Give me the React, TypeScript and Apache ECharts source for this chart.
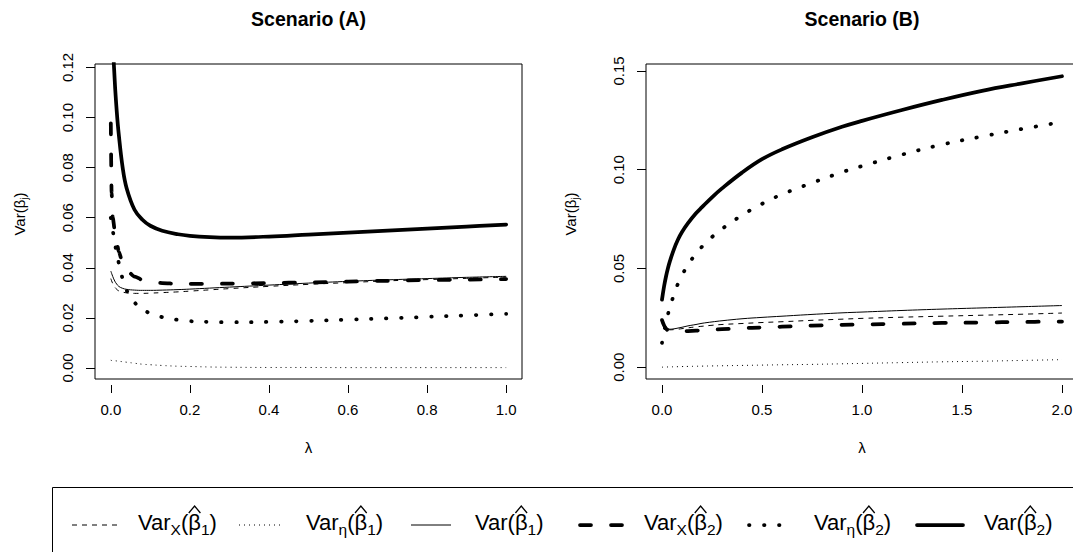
import React, { useEffect, useRef } from 'react';
import * as echarts from 'echarts';

const FONT = '"Liberation Sans", Arial, Helvetica, sans-serif';

// ---------- Scenario (A) ----------
const lambdaA = [0, 0.002, 0.005, 0.01, 0.015, 0.02, 0.03, 0.04, 0.06, 0.08, 0.1, 0.13, 0.17, 0.2, 0.25, 0.3, 0.4, 0.5, 0.6, 0.7, 0.8, 0.9, 1.0];
const varX1A = [0.0357, 0.0348, 0.0337, 0.0323, 0.0314, 0.0308, 0.0303, 0.0300, 0.0298, 0.0298, 0.0299, 0.0301, 0.0304, 0.0307, 0.0312, 0.0317, 0.0326, 0.0334, 0.0341, 0.0348, 0.0353, 0.0358, 0.0363];
const varEta1A = [0.0031, 0.0030, 0.0030, 0.0029, 0.0028, 0.0027, 0.0025, 0.0023, 0.0019, 0.0015, 0.0013, 0.0010, 0.0007, 0.0006, 0.0004, 0.0003, 0.0002, 0.0002, 0.00015, 0.00015, 0.00015, 0.00015, 0.00015];
const var1A = [0.0387, 0.0378, 0.0365, 0.0347, 0.0335, 0.0326, 0.0318, 0.0314, 0.0311, 0.0310, 0.0310, 0.0311, 0.0313, 0.0315, 0.0319, 0.0323, 0.0331, 0.0339, 0.0346, 0.0352, 0.0357, 0.0362, 0.0366];
const varX2A = [0.0977, 0.0700, 0.0600, 0.0550, 0.0500, 0.0465, 0.0420, 0.0390, 0.0365, 0.0352, 0.0344, 0.0339, 0.0336, 0.0336, 0.0336, 0.0337, 0.0339, 0.0342, 0.0345, 0.0348, 0.0351, 0.0353, 0.0355];
const varEta2A = [0.0600, 0.0580, 0.0550, 0.0500, 0.0458, 0.0420, 0.0355, 0.0310, 0.0262, 0.0235, 0.0218, 0.0203, 0.0192, 0.0187, 0.0184, 0.0183, 0.0184, 0.0188, 0.0193, 0.0198, 0.0204, 0.0210, 0.0216];
const var2A = [0.2500, 0.1900, 0.1330, 0.1145, 0.1025, 0.0935, 0.0800, 0.0718, 0.0632, 0.0592, 0.0568, 0.0548, 0.0534, 0.0528, 0.0523, 0.0521, 0.0525, 0.0533, 0.0541, 0.0549, 0.0557, 0.0565, 0.0573];

// ---------- Scenario (B) ----------
const lambdaB = [0, 0.01, 0.02, 0.03, 0.04, 0.06, 0.08, 0.1, 0.13, 0.17, 0.2, 0.25, 0.3, 0.4, 0.5, 0.6, 0.75, 0.9, 1.0, 1.2, 1.4, 1.6, 1.8, 2.0];
const varX1B = [0.0225, 0.0207, 0.0196, 0.0191, 0.0189, 0.0190, 0.0192, 0.0195, 0.0199, 0.0204, 0.0207, 0.0212, 0.0216, 0.0221, 0.0226, 0.0230, 0.0237, 0.0243, 0.0247, 0.0253, 0.0258, 0.0263, 0.0268, 0.0274];
const varEta1B = [0, 0.00003, 0.00006, 0.0001, 0.00012, 0.00018, 0.00024, 0.0003, 0.00037, 0.00046, 0.00052, 0.00062, 0.0007, 0.00088, 0.00104, 0.0012, 0.0014, 0.0017, 0.0019, 0.0023, 0.0027, 0.0030, 0.0034, 0.0038];
const var1B = [0.0235, 0.0215, 0.0202, 0.0195, 0.0192, 0.0194, 0.0198, 0.0202, 0.0209, 0.0216, 0.0222, 0.0229, 0.0235, 0.0245, 0.0252, 0.0258, 0.0267, 0.0275, 0.0279, 0.0287, 0.0294, 0.0300, 0.0306, 0.0312];
const varX2B = [0.0238, 0.0212, 0.0195, 0.0186, 0.0182, 0.0180, 0.0180, 0.0181, 0.0183, 0.0185, 0.0186, 0.0189, 0.0192, 0.0197, 0.0201, 0.0205, 0.0210, 0.0214, 0.0216, 0.0220, 0.0224, 0.0226, 0.0229, 0.0231];
const varEta2B = [0.0123, 0.0175, 0.0225, 0.0268, 0.0305, 0.0368, 0.0423, 0.0465, 0.0518, 0.0575, 0.0610, 0.0659, 0.0700, 0.0769, 0.0827, 0.0875, 0.0933, 0.0987, 0.1018, 0.1076, 0.1127, 0.1168, 0.1206, 0.1241];
const var2B = [0.0342, 0.0407, 0.0459, 0.0502, 0.0538, 0.0598, 0.0646, 0.0684, 0.0729, 0.0779, 0.0810, 0.0860, 0.0905, 0.0985, 0.1053, 0.1103, 0.1164, 0.1217, 0.1247, 0.1302, 0.1353, 0.1399, 0.1437, 0.1473];

// ---------- ticks & labels ----------
const xTicksA = [0, 0.2, 0.4, 0.6, 0.8, 1.0];
const xTicksB = [0, 0.5, 1.0, 1.5, 2.0];
const yTicksA = [0, 0.02, 0.04, 0.06, 0.08, 0.1, 0.12];
const yTicksB = [0, 0.05, 0.1, 0.15];
const panelTitles = ['Scenario (A)', 'Scenario (B)'];
const xAxisTitle = 'λ';
const yAxisTitle = '{a|Var(β}{s|j}{a|)}';
const seriesKeys = ['varX1', 'varEta1', 'var1', 'varX2', 'varEta2', 'var2'];
// legend label pieces: [name, subscript of Var, index of beta]
const legendParts = [
  ['Var', 'X', '1'],
  ['Var', 'η', '1'],
  ['Var', '', '1'],
  ['Var', 'X', '2'],
  ['Var', 'η', '2'],
  ['Var', '', '2'],
];

const LINE_STYLES: Record<string, any> = {
  varX1: { width: 1, type: [5, 5], cap: 'butt' },
  varEta1: { width: 1, type: [1, 4], cap: 'butt' },
  var1: { width: 1, type: 'solid', cap: 'butt' },
  varX2: { width: 3.75, type: [11, 20], cap: 'round' },
  varEta2: { width: 3.75, type: [0.5, 14.5], cap: 'round' },
  var2: { width: 3.75, type: 'solid', cap: 'round' },
};

const pair = (xs: number[], ys: number[]) => xs.map((x, i) => [x, ys[i]]);

let measureCtx: CanvasRenderingContext2D | null = null;
function textWidth(t: string, size: number) {
  if (!measureCtx) measureCtx = document.createElement('canvas').getContext('2d');
  if (!measureCtx) return t.length * size * 0.55;
  measureCtx.font = `${size}px "Liberation Sans", Arial, sans-serif`;
  return measureCtx.measureText(t).width;
}

function buildOption() {
  const panelA = [varX1A, varEta1A, var1A, varX2A, varEta2A, var2A];
  const panelB = [varX1B, varEta1B, var1B, varX2B, varEta2B, var2B];

  const mkSeries = (gi: number, xs: number[], ys: number[], key: string) => {
    const ls = LINE_STYLES[key];
    const steep = gi === 0 && key === 'varX2';
    return {
      type: 'line',
      name: key + gi,
      xAxisIndex: gi,
      yAxisIndex: gi,
      data: pair(xs, ys),
      showSymbol: false,
      symbol: 'none',
      smooth: steep ? 0.25 : 0.4,
      smoothMonotone: steep ? 'x' : undefined,
      clip: true,
      silent: true,
      lineStyle: { color: '#000', width: ls.width, type: ls.type, cap: ls.cap, join: 'round' },
    };
  };

  const series: any[] = [];
  seriesKeys.forEach((k, i) => series.push(mkSeries(0, lambdaA, panelA[i], k)));
  seriesKeys.forEach((k, i) => series.push(mkSeries(1, lambdaB, panelB[i], k)));

  const xAxisCfg = (gi: number, min: number, max: number, ticks: number[]) => ({
    gridIndex: gi,
    type: 'value',
    min,
    max,
    offset: 6,
    axisLine: { show: false, onZero: false },
    splitLine: { show: false },
    axisTick: { show: true, length: 8, inside: false, customValues: ticks, lineStyle: { color: '#000', width: 1 } },
    axisLabel: {
      show: true,
      customValues: ticks,
      margin: 17,
      fontSize: 15,
      color: '#000',
      fontFamily: FONT,
      formatter: (v: number) => v.toFixed(1),
    },
  });
  const yAxisCfg = (gi: number, min: number, max: number, ticks: number[]) => ({
    gridIndex: gi,
    type: 'value',
    min,
    max,
    axisLine: { show: false, onZero: false },
    splitLine: { show: false },
    axisTick: { show: true, length: 9, inside: false, customValues: ticks, lineStyle: { color: '#000', width: 1 } },
    axisLabel: {
      show: true,
      customValues: ticks,
      rotate: 90,
      margin: 20,
      fontSize: 15,
      color: '#000',
      fontFamily: FONT,
      formatter: (v: number) => v.toFixed(2),
    },
  });

  const gridA = { left: 95, top: 64, width: 427, height: 315 };
  const gridB = { left: 646, top: 64, width: 432, height: 315 };
  const centers = [gridA.left + gridA.width / 2, gridB.left + gridB.width / 2];

  const ylabRich = {
    a: { fontSize: 15, fontFamily: FONT, fill: '#000', color: '#000' },
    s: { fontSize: 10.5, fontFamily: FONT, fill: '#000', color: '#000', padding: [9, 0, 0, 0] },
  };

  const graphic: any[] = [];
  panelTitles.forEach((t, i) => {
    graphic.push({
      type: 'text', x: centers[i], y: 19, silent: true,
      style: { text: t, fontSize: 19.5, fontWeight: 'bold', fontFamily: FONT, fill: '#000', align: 'center', verticalAlign: 'middle' },
    });
    graphic.push({
      type: 'text', x: centers[i], y: 447, silent: true,
      style: { text: xAxisTitle, fontSize: 15, fontFamily: FONT, fill: '#000', align: 'center', verticalAlign: 'middle' },
    });
  });
  [19, 570].forEach((x) => {
    graphic.push({
      type: 'text', x, y: 214, rotation: Math.PI / 2, silent: true,
      style: { text: yAxisTitle, rich: ylabRich, fill: '#000', align: 'center', verticalAlign: 'middle' },
    });
  });

  // legend box
  graphic.push({
    type: 'rect', silent: true,
    shape: { x: 52.5, y: 487.5, width: 1100, height: 200 },
    style: { fill: 'none', stroke: '#000', lineWidth: 1 },
  });
  const legendLineX = [[72, 117], [239, 284], [411, 451], [580, 622], [749, 781], [917, 963]];
  const legendTextX = [138, 306, 475, 644, 814, 984];
  const legendY = 525;
  const MAIN = 22;
  const SUB = 15.5;
  const textY = 522;
  const subY = 529;
  const txt = (t: string, x: number, y: number, size: number) => ({
    type: 'text', x, y, silent: true,
    style: { text: t, fontSize: size, fontFamily: FONT, fill: '#000', align: 'left', verticalAlign: 'middle' },
  });
  seriesKeys.forEach((k, i) => {
    const ls = LINE_STYLES[k];
    graphic.push({
      type: 'line', silent: true,
      shape: { x1: legendLineX[i][0], y1: legendY, x2: legendLineX[i][1], y2: legendY },
      style: {
        stroke: '#000', lineWidth: ls.width,
        lineDash: Array.isArray(ls.type) ? ls.type : null,
        lineCap: ls.cap,
      },
    });
    const [nm, sub, idx] = legendParts[i];
    let x = legendTextX[i];
    graphic.push(txt(nm, x, textY, MAIN));
    x += textWidth(nm, MAIN);
    if (sub) {
      graphic.push(txt(sub, x, subY, SUB));
      x += textWidth(sub, SUB);
    }
    graphic.push(txt('(', x, textY, MAIN));
    x += textWidth('(', MAIN);
    const wb = textWidth('β', MAIN);
    graphic.push(txt('β', x, textY, MAIN));
    graphic.push({
      type: 'polyline', silent: true,
      shape: { points: [[x + 0.5, 513], [x + wb / 2, 506], [x + wb - 0.5, 513]] },
      style: { stroke: '#000', lineWidth: 1.3, fill: 'none' },
    });
    x += wb;
    graphic.push(txt(idx, x, subY, SUB));
    x += textWidth(idx, SUB);
    graphic.push(txt(')', x, textY, MAIN));
  });

  return {
    animation: false,
    textStyle: { fontFamily: FONT },
    grid: [
      { ...gridA, show: true, borderColor: '#000', borderWidth: 1, backgroundColor: 'rgba(0,0,0,0)', outerBoundsMode: 'none', containLabel: false },
      { ...gridB, show: true, borderColor: '#000', borderWidth: 1, backgroundColor: 'rgba(0,0,0,0)', outerBoundsMode: 'none', containLabel: false },
    ],
    xAxis: [xAxisCfg(0, -0.04, 1.04, xTicksA), xAxisCfg(1, -0.08, 2.08, xTicksB)],
    yAxis: [yAxisCfg(0, -0.0044, 0.1214, yTicksA), yAxisCfg(1, -0.006, 0.1535, yTicksB)],
    series,
    graphic,
  };
}

export default function App() {
  const ref = useRef<HTMLDivElement>(null);
  useEffect(() => {
    if (!ref.current) return;
    const chart = echarts.init(ref.current, undefined, { renderer: 'svg' });
    chart.setOption(buildOption() as any);
    return () => chart.dispose();
  }, []);
  return (
    <div
      ref={ref}
      style={{ position: 'absolute', left: 0, top: 0, width: 1073, height: 552, background: '#fff', overflow: 'hidden' }}
    />
  );
}
